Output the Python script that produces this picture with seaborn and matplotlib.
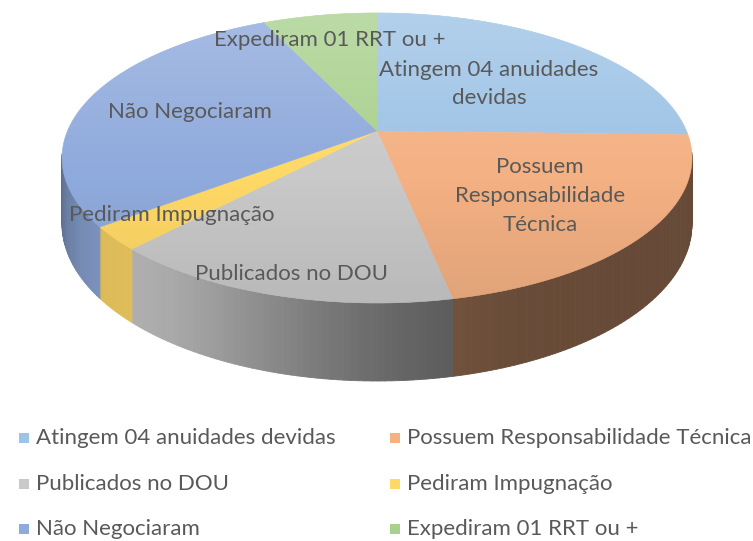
import numpy as np
import matplotlib.pyplot as plt
import seaborn as sns
from matplotlib.patches import Polygon
from matplotlib.collections import PolyCollection
from matplotlib.colors import to_rgb

categorias = ["Atingem 04 anuidades devidas", "Possuem Responsabilidade Técnica",
              "Publicados no DOU", "Pediram Impugnação", "Não Negociaram",
              "Expediram 01 RRT ou +"]
rotulos = ["Atingem 04 anuidades\ndevidas", "Possuem\nResponsabilidade\nTécnica",
           "Publicados no DOU", "Pediram Impugnação", "Não Negociaram",
           "Expediram 01 RRT ou +"]
valores = [25.4, 21.4, 15.2, 2.6, 28.4, 7.0]
cores = ["#9DC3E6", "#F4B183", "#C9C9C9", "#FFD966", "#8FAADC", "#A9D18E"]

# posicao dos rotulos (pixels)
pos_rotulos = [(489, 84), (540, 196), (292, 274), (172, 215), (190, 112), (330, 40)]

# geometria da pizza 3D (pixels)
X0, Y0 = 377, 131      # centro da face de cima
A, B = 309.5, 140.0    # raios
K = 0.186              # perspectiva
H = 63.5               # espessura

sns.set_theme(style="white")
plt.rcParams["font.family"] = ["Lato", "DejaVu Sans"]
COR_TEXTO = "#595959"

fig = plt.figure(figsize=(7.53, 5.41), dpi=100)
ax = fig.add_axes([0, 0, 1, 1])
fatias, _ = ax.pie(valores, colors=cores, startangle=90, counterclock=False)


def proj(th, z=0.0):
    th = np.radians(th)
    cx, cy = np.cos(th), np.sin(th)
    s = 1.0 / (1.0 + K * cy)
    return X0 + A * cx * s, Y0 - B * cy * s + H * z * s


def luz(phi):
    f = np.clip(np.cos(np.radians(phi + 135)), 0, None)
    return 0.42 + 0.45 * f ** 4


# laterais
quads, qcores = [], []
for w, c in zip(fatias, cores):
    rgb = np.array(to_rgb(c))
    n = max(3, int(abs(w.theta2 - w.theta1)))
    th = np.linspace(w.theta1, w.theta2, n)
    for a, b in zip(th[:-1], th[1:]):
        m = (a + b) / 2
        if np.sin(np.radians(m)) > -K + 0.03:
            continue
        xa, ya = proj(a)
        xb, yb = proj(b)
        xb2, yb2 = proj(b, 1)
        xa2, ya2 = proj(a, 1)
        quads.append([(xa, ya), (xb, yb), (xb2, yb2), (xa2, ya2)])
        qcores.append(np.clip(rgb * luz(m), 0, 1))
ax.add_collection(PolyCollection(quads, facecolors=qcores, edgecolors=qcores, linewidths=0.6))

# faces de cima
for w, c in zip(fatias, cores):
    th = np.linspace(w.theta1, w.theta2, max(3, int(abs(w.theta2 - w.theta1)) * 2))
    xs, ys = proj(th)
    pts = np.column_stack([np.r_[X0, xs], np.r_[Y0, ys]])
    ax.add_patch(Polygon(pts, closed=True, facecolor=c, edgecolor=c, linewidth=0.4))
    w.remove()

# gradiente de luz na face de cima
th = np.linspace(0, 360, 361)
xs, ys = proj(th)
borda = Polygon(np.column_stack([xs, ys]), closed=True, facecolor="none", edgecolor="none")
ax.add_patch(borda)
t = np.linspace(0, 1, 200)
grad = np.zeros((200, 1, 4))
cima = t < 0.55
grad[cima, 0, :3] = 1.0
grad[cima, 0, 3] = 0.22 * (1 - t[cima] / 0.55)
grad[~cima, 0, 3] = 0.08 * (t[~cima] - 0.55) / 0.45
im = ax.imshow(grad, extent=(xs.min(), xs.max(), ys.max(), ys.min()), origin="upper",
               aspect="auto", interpolation="bilinear", zorder=2)
im.set_clip_path(borda)

for (x, y), r in zip(pos_rotulos, rotulos):
    ax.text(x, y, r, ha="center", va="center", fontsize=16, color=COR_TEXTO,
            linespacing=1.55, zorder=5)

# legenda
for i, (cat, c) in enumerate(zip(categorias, cores)):
    col, lin = i % 2, i // 2
    mx = [24, 395][col]
    my = [438, 484, 529][lin]
    ax.scatter([mx], [my], marker="s", s=60, color=c, linewidths=0, zorder=5)
    ax.text(mx + 12, my, cat, ha="left", va="center", fontsize=16, color=COR_TEXTO)

ax.set_xlim(0, 753)
ax.set_ylim(541, 0)
ax.set_aspect("auto")
ax.axis("off")

fig.savefig("out.png", dpi=100)
